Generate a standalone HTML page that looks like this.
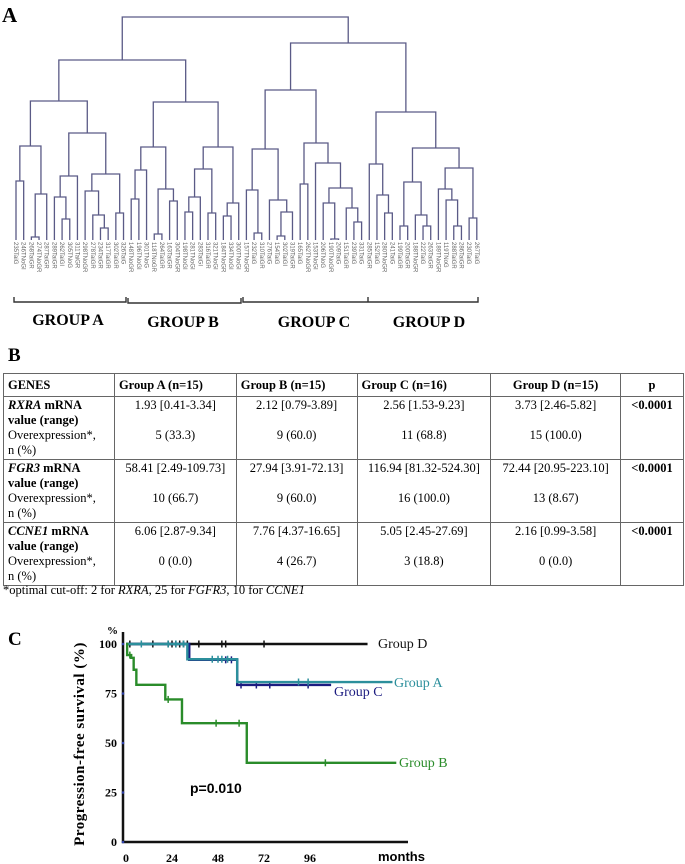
<!DOCTYPE html>
<html><head><meta charset="utf-8"><style>
html,body{margin:0;padding:0;background:#fff;}
body{width:685px;height:864px;position:relative;overflow:hidden;font-family:"Liberation Serif",serif;}
svg{position:absolute;left:0;top:0;}
table{position:absolute;left:3px;top:373px;width:681px;border-collapse:collapse;font-size:12.5px;line-height:15px;}
td{border:1px solid #666;vertical-align:top;padding:1px 4px;}
td.c{text-align:center;}
.hdr td{height:20px;font-weight:bold;vertical-align:middle;}
#foot{position:absolute;left:3px;top:583px;font-size:12.5px;}
</style></head><body>
<svg id="fig" width="685" height="864">
<text x="2" y="22" font-size="21" font-weight="bold" font-family="Liberation Serif">A</text>
<g id="dendro"></g>
<g stroke="#333" stroke-width="1.4" fill="none">
<path d="M14 297V302H126V297"/><path d="M128 298V303H241V298"/><path d="M243 297V302H368V297M368 302H478V297"/>
</g>
<g font-family="Liberation Serif" font-weight="bold" font-size="16" text-anchor="middle">
<text x="68" y="325">GROUP A</text>
<text x="183" y="327">GROUP B</text>
<text x="314" y="327">GROUP C</text>
<text x="429" y="327">GROUP D</text>
</g>
<text x="8" y="361" font-size="19" font-weight="bold" font-family="Liberation Serif">B</text>
<text x="8" y="645" font-size="19" font-weight="bold" font-family="Liberation Serif">C</text>
<g id="km"></g>
</svg>
<table>
<colgroup><col style="width:111px"><col style="width:122px"><col style="width:121px"><col style="width:134px"><col style="width:130px"><col style="width:63px"></colgroup>
<tr class="hdr"><td>GENES</td><td>Group A (n=15)</td><td>Group B (n=15)</td><td>Group C (n=16)</td><td class="c">Group D (n=15)</td><td class="c">p</td></tr>
<tr style="height:61px"><td><b><i>RXRA</i> mRNA value (range)</b><br>Overexpression*,<br>n (%)</td><td class="c">1.93 [0.41-3.34]<br><br>5 (33.3)</td><td class="c">2.12 [0.79-3.89]<br><br>9 (60.0)</td><td class="c">2.56 [1.53-9.23]<br><br>11 (68.8)</td><td class="c">3.73 [2.46-5.82]<br><br>15 (100.0)</td><td class="c"><b>&lt;0.0001</b></td></tr>
<tr style="height:62px"><td><b><i>FGR3</i> mRNA value (range)</b><br>Overexpression*,<br>n (%)</td><td class="c">58.41 [2.49-109.73]<br><br>10 (66.7)</td><td class="c">27.94 [3.91-72.13]<br><br>9 (60.0)</td><td class="c">116.94 [81.32-524.30]<br><br>16 (100.0)</td><td class="c">72.44 [20.95-223.10]<br><br>13 (8.67)</td><td class="c"><b>&lt;0.0001</b></td></tr>
<tr style="height:61px"><td><b><i>CCNE1</i> mRNA value (range)</b><br>Overexpression*,<br>n (%)</td><td class="c">6.06 [2.87-9.34]<br><br>0 (0.0)</td><td class="c">7.76 [4.37-16.65]<br><br>4 (26.7)</td><td class="c">5.05 [2.45-27.69]<br><br>3 (18.8)</td><td class="c">2.16 [0.99-3.58]<br><br>0 (0.0)</td><td class="c"><b>&lt;0.0001</b></td></tr>
</table>
<div id="foot">*optimal cut-off: 2 for <i>RXRA</i>, 25 for <i>FGFR3</i>, 10 for <i>CCNE1</i></div>
<script>
// ---- Dendrogram data ----
const leafNames = ["235TaiG","246TNoGI","268TaiGR","274TNoGR","287TaiGR","289TaiGR","262TaiGI","305TNoG","311TaiGR","298TNoGR","278TaiGR","234TaiGR","317TaiGR","302TaiGR","326TaiG",
"148TNoGR","196TNoGI","301TNoG","118TNoGR","264TaiGR","163TaiGR","304TNoGR","198TNoGI","281TNoGI","283TaiGI","316TaiGR","321TNoGI","184TNoGR","334TNoGI","300TNoGI",
"157TNoGR","232TaiG","310TaiGR","276TaiG","154TaiG","302TaiGI","319TaiGR","165TaiG","262TNoGR","153TNoGI","206TNoG","190TNoGR","209TaiG","151TaiGR","239TaiG","331TaiG",
"285TaiGR","152TaiG","280TNoGR","241TaiG","199TaiGR","200TaiGR","188TNoGR","222TaiG","263TaiGR","189TNoGR","119TNoG","288TaiGR","286TaiGR","230TaiG","267TaiG"];
const treeA = [139,[94,[59,0,1],[46,[3,2,3],4]],[107,[64,[43,5,[21,6,7]],8],[66,[49,9,[25,10,[12,11,12]]],[27,13,14]]]];
const treeB = [138,[93,[70,[41,15,16],17],[51,[6,18,19],[39,20,21]]],[93,[71,[43,[28,22,23],24],[27,25,26]],[37,[24,27,28],29]]];
const treeC = [150,[91,[50,30,[7,31,32]],[40,33,[28,[4,34,35],36]]],[97,[56,37,38],[77,39,[52,[37,40,[1,41,42]],[32,43,[18,44,45]]]]]];
const treeD = [128,[76,46,[45,47,[27,48,49]]],[92,[58,[14,50,51],[25,52,[14,53,54]]],[72,[51,55,[40,56,[14,57,58]]],[22,59,60]]]];
const rootHeights = [180,197,223]; // AB, CD, root
const NS="http://www.w3.org/2000/svg";
const dg=document.getElementById('dendro');
const leafX=i=>16+i*7.68;
const distY=d=>240-d;
function draw(node){
  if(typeof node==='number') return {x:leafX(node),y:distY(0)};
  const a=draw(node[1]),b=draw(node[2]),y=distY(node[0]);
  const p=document.createElementNS(NS,'path');
  p.setAttribute('d',`M${a.x} ${a.y}V${y}H${b.x}V${b.y}`);
  p.setAttribute('fill','none');p.setAttribute('stroke','#5a5a86');p.setAttribute('stroke-width','1.3');
  
  
  dg.appendChild(p);
  return {x:(a.x+b.x)/2,y:y};
}
draw([rootHeights[2],[rootHeights[0],treeA,treeB],[rootHeights[1],treeC,treeD]]);
leafNames.forEach((n,i)=>{
  const t=document.createElementNS(NS,'text');
  t.setAttribute('transform',`translate(${leafX(i)-2},242) rotate(90)`);
  t.setAttribute('font-size','6');t.setAttribute('fill','#666');
  t.setAttribute('font-family','Liberation Sans');
  t.textContent=n;
  
  
  dg.appendChild(t);
});

// ---- KM chart data ----
const xTicks=[0,24,48,72,96];
const yTicks=[0,25,50,75,100];
const dEvents=[], dSurv=[], dEnd=126, dCens=[2,14,22,24,26,28,30,32,38,50,52,72];
const aEvents=[32,58], aSurv=[92.3,80.8], aEnd=139, aCens=[8,22,26,30,45,48,50,53,90,95];
const cEvents=[33,58], cSurv=[92,79.3], cEnd=107, cCens=[52,55,60,68,75,95];
const bEvents=[0.6,2.7,4,5.4,20.5,29.2,63], bSurv=[94.4,93,87,79.4,72,60,40], bEnd=141, bCens=[2,22,47,59,104];
const km=document.getElementById('km');
const X=m=>126+m*1.917, Y=s=>842-s*1.98;
function el(tag,attrs,name,txt){const e=document.createElementNS(NS,tag);for(const k in attrs)e.setAttribute(k,attrs[k]);
  
  
  if(txt!==undefined)e.textContent=txt;km.appendChild(e);return e;}
function survAt(ev,sv,t){let s=100;ev.forEach((e,i)=>{if(t>=e)s=sv[i];});return s;}
function curve(ev,sv,end,cens,col,name){
  let d=`M${X(0)} ${Y(100)}`;
  ev.forEach((e,i)=>{d+=`H${X(e)}V${Y(sv[i])}`;});
  d+=`H${X(end)}`;
  el('path',{d:d,fill:'none',stroke:col,'stroke-width':2.4},name+'-curve');
  cens.forEach(c=>{const y=Y(survAt(ev,sv,c));el('path',{d:`M${X(c)} ${y-3.5}V${y+3.5}`,stroke:col,'stroke-width':1.5},name+'-censor');});
}
el('path',{d:`M123 632V842H408`,fill:'none',stroke:'#111','stroke-width':2.5},'axes');
curve(dEvents,dSurv,dEnd,dCens,'#111','group-d');
curve(cEvents,cSurv,cEnd,cCens,'#1c1c80','group-c');
curve(aEvents,aSurv,aEnd,aCens,'#2c8f9c','group-a');
curve(bEvents,bSurv,bEnd,bCens,'#2a8c2a','group-b');
yTicks.forEach(v=>{el('text',{x:117,y:Y(v)+4,'text-anchor':'end','font-size':12,'font-weight':'bold','font-family':'Liberation Serif'},'y-tick-label',String(v));
  el('circle',{cx:123,cy:Y(v),r:1.3,fill:'#3344aa'},'y-tick');});
xTicks.forEach(v=>{el('text',{x:X(v),y:862,'text-anchor':'middle','font-size':12,'font-weight':'bold','font-family':'Liberation Serif'},'x-tick-label',String(v));});
el('text',{x:107,y:634,'font-size':11,'font-weight':'bold','font-family':'Liberation Serif'},'y-unit','%');
el('text',{x:378,y:861,'font-size':13,'font-weight':'bold','font-family':'Liberation Sans'},'x-axis-title','months');
el('text',{transform:'translate(84,744) rotate(-90)','text-anchor':'middle','font-size':15,'font-weight':'bold','letter-spacing':'0.5','font-family':'Liberation Serif'},'y-axis-title','Progression-free survival (%)');
el('text',{x:190,y:793,'font-size':14,'font-weight':'bold','font-family':'Liberation Sans'},'p-value','p=0.010');
el('text',{x:378,y:648,'font-size':14,'font-family':'Liberation Serif',fill:'#111'},'label-group-d','Group D');
el('text',{x:394,y:687,'font-size':14,'font-family':'Liberation Serif',fill:'#2c8f9c'},'label-group-a','Group A');
el('text',{x:334,y:696,'font-size':14,'font-family':'Liberation Serif',fill:'#1c1c80'},'label-group-c','Group C');
el('text',{x:399,y:767,'font-size':14,'font-family':'Liberation Serif',fill:'#2a8c2a'},'label-group-b','Group B');
</script>
</body></html>
